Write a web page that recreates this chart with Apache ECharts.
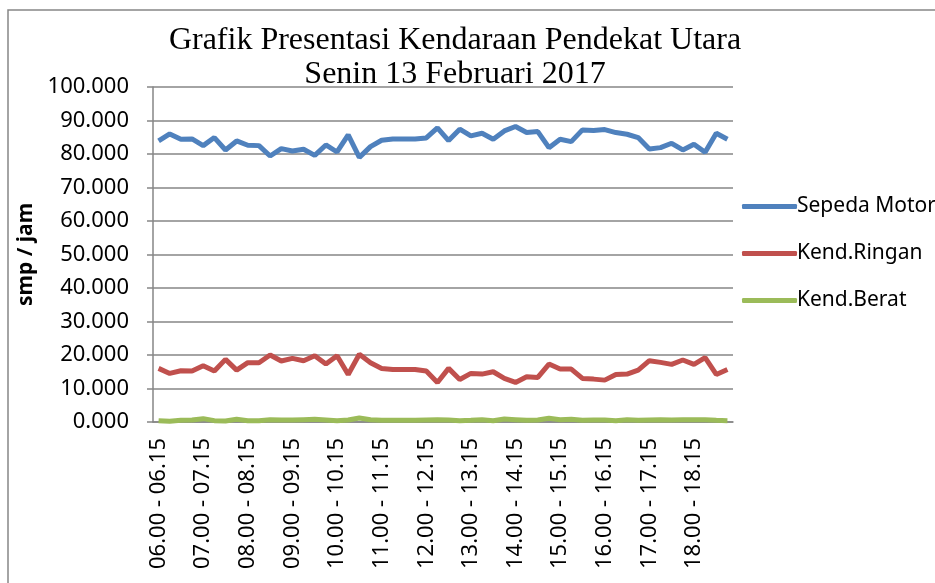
<!DOCTYPE html>
<html>
<head>
<meta charset="utf-8">
<script src="https://cdn.jsdelivr.net/npm/echarts@6/dist/echarts.min.js"></script>
<style>
  html, body { margin: 0; padding: 0; background: #fff; }
  #chartBox { width: 935px; height: 583px; }
</style>
</head>
<body>
<div id="chartBox"></div>
<script>
// jam pengamatan (15 menit)
const waktuList = [
  '06.00 - 06.15','06.15 - 06.30','06.30 - 06.45','06.45 - 07.00',
  '07.00 - 07.15','07.15 - 07.30','07.30 - 07.45','07.45 - 08.00',
  '08.00 - 08.15','08.15 - 08.30','08.30 - 08.45','08.45 - 09.00',
  '09.00 - 09.15','09.15 - 09.30','09.30 - 09.45','09.45 - 10.00',
  '10.00 - 10.15','10.15 - 10.30','10.30 - 10.45','10.45 - 11.00',
  '11.00 - 11.15','11.15 - 11.30','11.30 - 11.45','11.45 - 12.00',
  '12.00 - 12.15','12.15 - 12.30','12.30 - 12.45','12.45 - 13.00',
  '13.00 - 13.15','13.15 - 13.30','13.30 - 13.45','13.45 - 14.00',
  '14.00 - 14.15','14.15 - 14.30','14.30 - 14.45','14.45 - 15.00',
  '15.00 - 15.15','15.15 - 15.30','15.30 - 15.45','15.45 - 16.00',
  '16.00 - 16.15','16.15 - 16.30','16.30 - 16.45','16.45 - 17.00',
  '17.00 - 17.15','17.15 - 17.30','17.30 - 17.45','17.45 - 18.00',
  '18.00 - 18.15','18.15 - 18.30','18.30 - 18.45','18.45 - 19.00'
];

const sepedaMotor = [
  83.9, 86.0, 84.4, 84.5, 82.5, 84.9, 81.2, 83.9, 82.6, 82.5,
  79.4, 81.6, 80.9, 81.4, 79.6, 82.7, 80.6, 85.7, 79.0, 82.2,
  84.1, 84.5, 84.5, 84.5, 84.8, 87.8, 84.0, 87.4, 85.4, 86.2,
  84.4, 86.9, 88.2, 86.4, 86.7, 81.9, 84.4, 83.7, 87.2, 87.0,
  87.3, 86.4, 85.9, 84.9, 81.5, 81.9, 83.2, 81.2, 82.9, 80.5,
  86.2, 84.4
];

const kendRingan = [
  16.0, 14.5, 15.3, 15.2, 16.8, 15.2, 18.7, 15.5, 17.7, 17.7,
  20.0, 18.2, 19.0, 18.3, 19.8, 17.3, 19.8, 14.2, 20.2, 17.7,
  16.0, 15.7, 15.7, 15.7, 15.2, 11.8, 16.0, 12.7, 14.5, 14.3,
  15.0, 13.0, 11.8, 13.5, 13.3, 17.3, 15.8, 15.8, 13.0, 12.8,
  12.5, 14.2, 14.3, 15.5, 18.3, 17.8, 17.2, 18.5, 17.2, 19.2,
  14.2, 15.7
];

const kendBerat = [
  0.4, 0.2, 0.5, 0.6, 1.0, 0.4, 0.3, 0.8, 0.4, 0.4,
  0.7, 0.6, 0.6, 0.7, 0.8, 0.6, 0.4, 0.6, 1.2, 0.7,
  0.5, 0.5, 0.5, 0.5, 0.6, 0.7, 0.6, 0.4, 0.5, 0.7,
  0.4, 0.9, 0.7, 0.5, 0.6, 1.1, 0.7, 0.8, 0.5, 0.6,
  0.6, 0.4, 0.7, 0.5, 0.6, 0.7, 0.6, 0.7, 0.7, 0.7,
  0.5, 0.4
];

const warnaList = ['#4F81BD', '#C0504D', '#9BBB59'];
const sansFont = '"Noto Sans", "Open Sans", sans-serif';

let myChart = echarts.init(document.getElementById('chartBox'));

let option = {
    animation: false,
    color: warnaList,
    title: {
        text: 'Grafik Presentasi Kendaraan Pendekat Utara\nSenin 13 Februari 2017',
        left: 450,
        top: 19,
        textAlign: 'center',
        textStyle: {
            fontFamily: '"Liberation Serif", "DejaVu Serif", serif',
            fontWeight: 'normal',
            fontSize: 32,
            lineHeight: 34,
            color: '#000'
        }
    },
    graphic: [
        {
            type: 'rect',
            shape: { x: 8, y: 10, width: 1000, height: 700 },
            style: { fill: 'none', stroke: '#868686', lineWidth: 1.5 },
            silent: true
        }
    ],
    legend: {
        orient: 'vertical',
        left: 737,
        top: 191,
        itemWidth: 55,
        itemHeight: 5,
        itemGap: 26,
        icon: 'roundRect',
        textStyle: { fontFamily: sansFont, fontSize: 21, color: '#000', padding: [0, 0, 0, -5] },
        data: ['Sepeda Motor', 'Kend.Ringan', 'Kend.Berat']
    },
    grid: {
        left: 153,
        right: 202,
        top: 87,
        bottom: 161,
        containLabel: false
    },
    xAxis: {
        type: 'category',
        boundaryGap: true,
        data: waktuList,
        axisLine: { lineStyle: { color: '#868686', width: 1.5 } },
        axisTick: { interval: 0, length: 6, lineStyle: { color: '#868686', width: 1.5 } },
        axisLabel: {
            interval: 3,
            rotate: 90,
            fontFamily: sansFont,
            fontSize: 22,
            color: '#000',
            margin: 16
        },
        splitLine: { show: false }
    },
    yAxis: {
        type: 'value',
        min: 0,
        max: 100,
        interval: 10,
        name: 'smp / jam',
        nameLocation: 'middle',
        nameGap: 113,
        nameTextStyle: { fontFamily: sansFont, fontSize: 21, fontWeight: 'bold', color: '#000' },
        axisLine: { show: true, lineStyle: { color: '#868686', width: 1.5 } },
        axisTick: { show: true, length: 6, lineStyle: { color: '#868686', width: 1.5 } },
        axisLabel: {
            fontFamily: sansFont,
            fontSize: 22,
            color: '#000',
            margin: 24,
            formatter: (v) => v.toFixed(3)
        },
        splitLine: { lineStyle: { color: '#868686', width: 1.5 } }
    },
    series: [
        {
            name: 'Sepeda Motor',
            type: 'line',
            data: sepedaMotor,
            symbol: 'none',
            lineStyle: { width: 5, color: warnaList[0] }
        },
        {
            name: 'Kend.Ringan',
            type: 'line',
            data: kendRingan,
            symbol: 'none',
            lineStyle: { width: 5, color: warnaList[1] }
        },
        {
            name: 'Kend.Berat',
            type: 'line',
            data: kendBerat,
            symbol: 'none',
            lineStyle: { width: 5, color: warnaList[2] }
        }
    ]
};

myChart.setOption(option);
</script>
</body>
</html>
